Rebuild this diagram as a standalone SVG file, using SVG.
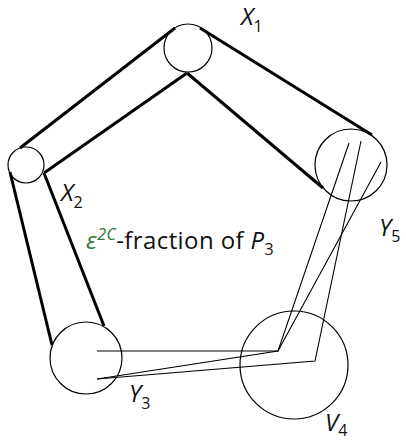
<svg xmlns="http://www.w3.org/2000/svg" width="406" height="440" viewBox="0 0 406 440">
<style>
.node{fill:none;stroke:#000;stroke-width:1.2}
.thick{fill:none;stroke:#000;stroke-width:3}
.thin{fill:none;stroke:#000;stroke-width:1.1;stroke-linejoin:miter}
.lbl{font-family:"Open Sans",Lato,sans-serif;font-size:24px;font-style:italic;fill:#111}
.sub{font-size:16px;font-style:normal}
.txt{font-family:"Open Sans",Lato,sans-serif;font-size:24px;letter-spacing:0.4px;fill:#111}
.grn{fill:#2e7a2e}
</style>
<rect width="406" height="440" fill="#fff"/>
<g id="connectors">
<line class="thick" x1="20" y1="148" x2="175" y2="28"/>
<line class="thick" x1="44" y1="173" x2="187" y2="73"/>
<line class="thick" x1="200" y1="28" x2="372" y2="135"/>
<line class="thick" x1="187" y1="73" x2="323" y2="188"/>
<line class="thick" x1="10" y1="172" x2="52" y2="345"/>
<line class="thick" x1="44" y1="173" x2="104" y2="326"/>
<polyline class="thin" points="97,351 278,351 349,143"/>
<polyline class="thin" points="97,379 278,351 381,162"/>
<polyline class="thin" points="97,379 315,361 361,141"/>
</g>
<g id="X1"><circle class="node" cx="188" cy="48" r="24"/><text class="lbl" x="241" y="25">X<tspan class="sub" dy="7">1</tspan></text></g>
<g id="X2"><circle class="node" cx="26" cy="165" r="18"/><text class="lbl" x="61" y="201">X<tspan class="sub" dy="7">2</tspan></text></g>
<g id="Y5"><circle class="node" cx="351" cy="165" r="36"/><text class="lbl" x="379" y="236">Y<tspan class="sub" dy="6">5</tspan></text></g>
<g id="Y3"><circle class="node" cx="86" cy="358" r="36"/><text class="lbl" x="129" y="402">Y<tspan class="sub" dy="7">3</tspan></text></g>
<g id="V4"><circle class="node" cx="294" cy="365" r="54"/><text class="lbl" x="325" y="431">V<tspan class="sub" dy="5">4</tspan></text></g>
<g id="P3label"><text class="txt" x="86" y="249"><tspan class="grn" font-style="italic">ε</tspan><tspan class="grn" font-style="italic" font-size="16" dy="-9">2C</tspan><tspan dy="9">-fraction of </tspan><tspan font-style="italic">P</tspan><tspan font-size="16" dy="6">3</tspan></text></g>
</svg>
